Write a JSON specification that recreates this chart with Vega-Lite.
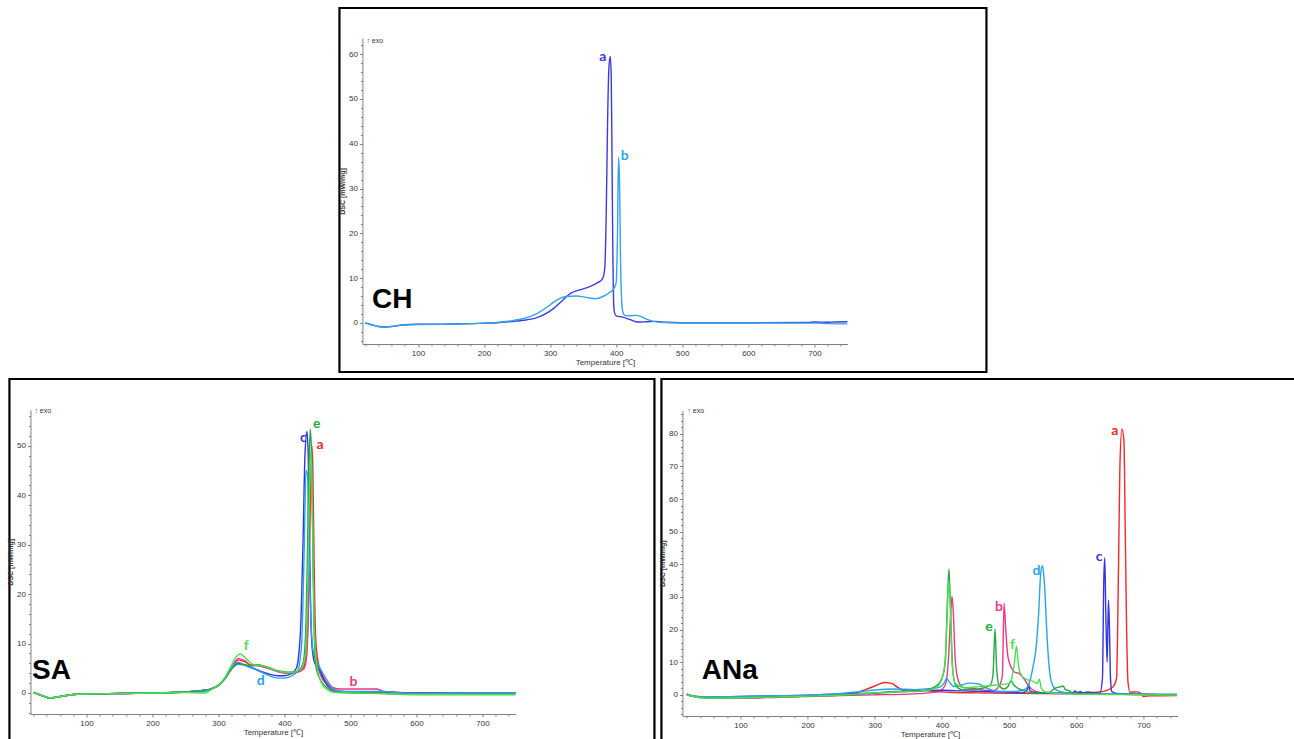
{
  "$schema": "https://vega.github.io/schema/vega-lite/v6.json",
  "background": "white",
  "padding": {"left": 5, "top": 6, "right": 0, "bottom": 0},
  "config": {
    "view": {"stroke": "black", "strokeWidth": 2.2, "fill": "white"},
    "axis": {
      "grid": false,
      "domainColor": "#808080",
      "tickColor": "#808080",
      "tickSize": 3,
      "labelFont": "Liberation Sans",
      "labelFontSize": 8,
      "labelColor": "#333333",
      "labelPadding": 2,
      "titleFont": "Liberation Sans",
      "titleFontSize": 8,
      "titleColor": "#333333",
      "titleFontWeight": "normal"
    },
    "line": {"strokeWidth": 1.4},
    "legend": {"disable": true}
  },
  "datasets": {
    "ch": [
      {"s":"a","T":20,"v":0},{"s":"a","T":30,"v":-0.4},{"s":"a","T":40,"v":-0.8},{"s":"a","T":50,"v":-0.9},{"s":"a","T":60,"v":-0.8},{"s":"a","T":80,"v":-0.4},{"s":"a","T":100,"v":-0.3},{"s":"a","T":150,"v":-0.25},{"s":"a","T":200,"v":-0.05},{"s":"a","T":220,"v":0.05},{"s":"a","T":240,"v":0.3},{"s":"a","T":260,"v":0.6},{"s":"a","T":280,"v":1.2},{"s":"a","T":295,"v":2.2},{"s":"a","T":305,"v":3.2},{"s":"a","T":315,"v":4.5},{"s":"a","T":325,"v":5.9},{"s":"a","T":332,"v":6.7},{"s":"a","T":345,"v":7.4},{"s":"a","T":360,"v":8.1},{"s":"a","T":372,"v":9.0},{"s":"a","T":378,"v":9.6},{"s":"a","T":381,"v":10.5},{"s":"a","T":383,"v":13},{"s":"a","T":385,"v":25},{"s":"a","T":387,"v":45},{"s":"a","T":389,"v":57},{"s":"a","T":391,"v":59.5},{"s":"a","T":392.5,"v":55},{"s":"a","T":393.5,"v":40},{"s":"a","T":395,"v":15},{"s":"a","T":396,"v":5},{"s":"a","T":397.5,"v":2.3},{"s":"a","T":400,"v":1.6},{"s":"a","T":410,"v":1.3},{"s":"a","T":418,"v":0.9},{"s":"a","T":425,"v":0.5},{"s":"a","T":432,"v":0.2},{"s":"a","T":445,"v":0.25},{"s":"a","T":460,"v":0.35},{"s":"a","T":475,"v":0.15},{"s":"a","T":500,"v":0.05},{"s":"a","T":600,"v":0.05},{"s":"a","T":690,"v":0.1},{"s":"a","T":700,"v":0.2},{"s":"a","T":720,"v":0.15},{"s":"a","T":730,"v":0.2},{"s":"a","T":750,"v":0.25},
      {"s":"b","T":20,"v":0},{"s":"b","T":30,"v":-0.4},{"s":"b","T":40,"v":-0.8},{"s":"b","T":50,"v":-0.95},{"s":"b","T":60,"v":-0.8},{"s":"b","T":80,"v":-0.45},{"s":"b","T":100,"v":-0.35},{"s":"b","T":150,"v":-0.3},{"s":"b","T":200,"v":-0.05},{"s":"b","T":220,"v":0.1},{"s":"b","T":240,"v":0.45},{"s":"b","T":260,"v":1.0},{"s":"b","T":280,"v":2.1},{"s":"b","T":295,"v":3.5},{"s":"b","T":305,"v":4.6},{"s":"b","T":315,"v":5.5},{"s":"b","T":325,"v":5.9},{"s":"b","T":340,"v":6.0},{"s":"b","T":355,"v":5.7},{"s":"b","T":368,"v":5.4},{"s":"b","T":380,"v":5.9},{"s":"b","T":390,"v":6.8},{"s":"b","T":397,"v":7.8},{"s":"b","T":400,"v":9},{"s":"b","T":402,"v":20},{"s":"b","T":403.5,"v":37},{"s":"b","T":405,"v":32},{"s":"b","T":406.5,"v":15},{"s":"b","T":408,"v":6},{"s":"b","T":410,"v":2.5},{"s":"b","T":413,"v":1.7},{"s":"b","T":420,"v":1.6},{"s":"b","T":430,"v":1.7},{"s":"b","T":438,"v":1.4},{"s":"b","T":445,"v":0.9},{"s":"b","T":455,"v":0.4},{"s":"b","T":465,"v":0.15},{"s":"b","T":500,"v":0.0},{"s":"b","T":600,"v":0.0},{"s":"b","T":700,"v":-0.05},{"s":"b","T":720,"v":-0.15},{"s":"b","T":750,"v":-0.2}
    ],
    "chLab": [
      {"s":"a","T":379.6,"v":59.4},{"s":"b","T":412.8,"v":37.3}
    ],
    "sa": [
      {"s":"a","T":20,"v":0.1},{"s":"a","T":30,"v":-0.4},{"s":"a","T":45,"v":-1.0},{"s":"a","T":60,"v":-0.7},{"s":"a","T":80,"v":-0.3},{"s":"a","T":100,"v":-0.2},{"s":"a","T":150,"v":-0.1},{"s":"a","T":200,"v":0},{"s":"a","T":250,"v":0.2},{"s":"a","T":275,"v":0.5},{"s":"a","T":290,"v":0.9},{"s":"a","T":300,"v":1.6},{"s":"a","T":310,"v":3.0},{"s":"a","T":318,"v":4.6},{"s":"a","T":325,"v":6.0},{"s":"a","T":330,"v":6.7},{"s":"a","T":340,"v":6.3},{"s":"a","T":350,"v":5.6},{"s":"a","T":360,"v":5.5},{"s":"a","T":375,"v":5.0},{"s":"a","T":390,"v":4.4},{"s":"a","T":405,"v":4.0},{"s":"a","T":420,"v":4.3},{"s":"a","T":428,"v":5.0},{"s":"a","T":432,"v":7},{"s":"a","T":436,"v":15},{"s":"a","T":438,"v":30},{"s":"a","T":440,"v":45},{"s":"a","T":441.5,"v":50},{"s":"a","T":443,"v":45},{"s":"a","T":445,"v":25},{"s":"a","T":447,"v":12},{"s":"a","T":450,"v":7},{"s":"a","T":455,"v":4.5},{"s":"a","T":462,"v":2.5},{"s":"a","T":470,"v":1.2},{"s":"a","T":480,"v":0.4},{"s":"a","T":500,"v":0.2},{"s":"a","T":550,"v":0.1},{"s":"a","T":600,"v":-0.1},{"s":"a","T":700,"v":-0.1},{"s":"a","T":750,"v":-0.1},
      {"s":"b","T":20,"v":0.1},{"s":"b","T":30,"v":-0.4},{"s":"b","T":45,"v":-1.0},{"s":"b","T":60,"v":-0.7},{"s":"b","T":80,"v":-0.3},{"s":"b","T":100,"v":-0.2},{"s":"b","T":150,"v":-0.1},{"s":"b","T":200,"v":0},{"s":"b","T":250,"v":0.2},{"s":"b","T":275,"v":0.5},{"s":"b","T":290,"v":0.9},{"s":"b","T":300,"v":1.6},{"s":"b","T":310,"v":3.0},{"s":"b","T":318,"v":4.8},{"s":"b","T":325,"v":6.3},{"s":"b","T":330,"v":7.0},{"s":"b","T":340,"v":6.5},{"s":"b","T":350,"v":5.5},{"s":"b","T":360,"v":5.6},{"s":"b","T":375,"v":5.0},{"s":"b","T":390,"v":4.3},{"s":"b","T":405,"v":4.0},{"s":"b","T":420,"v":4.2},{"s":"b","T":430,"v":5},{"s":"b","T":434,"v":8},{"s":"b","T":437,"v":25},{"s":"b","T":439,"v":45},{"s":"b","T":440,"v":48},{"s":"b","T":441.5,"v":46},{"s":"b","T":443,"v":30},{"s":"b","T":445,"v":15},{"s":"b","T":448,"v":7},{"s":"b","T":455,"v":3.5},{"s":"b","T":465,"v":1.8},{"s":"b","T":475,"v":1.0},{"s":"b","T":485,"v":0.8},{"s":"b","T":500,"v":0.8},{"s":"b","T":520,"v":0.8},{"s":"b","T":540,"v":0.8},{"s":"b","T":545,"v":0.6},{"s":"b","T":550,"v":0.3},{"s":"b","T":560,"v":0.2},{"s":"b","T":600,"v":0.0},{"s":"b","T":700,"v":0.0},{"s":"b","T":750,"v":0.0},
      {"s":"c","T":20,"v":0.1},{"s":"c","T":30,"v":-0.4},{"s":"c","T":45,"v":-1.0},{"s":"c","T":60,"v":-0.7},{"s":"c","T":80,"v":-0.3},{"s":"c","T":100,"v":-0.2},{"s":"c","T":150,"v":-0.1},{"s":"c","T":200,"v":0},{"s":"c","T":250,"v":0.2},{"s":"c","T":275,"v":0.5},{"s":"c","T":290,"v":0.9},{"s":"c","T":300,"v":1.6},{"s":"c","T":310,"v":3.0},{"s":"c","T":318,"v":4.6},{"s":"c","T":325,"v":5.7},{"s":"c","T":330,"v":6.0},{"s":"c","T":345,"v":5.4},{"s":"c","T":360,"v":4.6},{"s":"c","T":375,"v":3.9},{"s":"c","T":390,"v":3.5},{"s":"c","T":400,"v":3.5},{"s":"c","T":410,"v":3.9},{"s":"c","T":418,"v":5},{"s":"c","T":424,"v":12},{"s":"c","T":428,"v":30},{"s":"c","T":431,"v":48},{"s":"c","T":434,"v":52.9},{"s":"c","T":436,"v":48},{"s":"c","T":438,"v":30},{"s":"c","T":440,"v":15},{"s":"c","T":442,"v":9},{"s":"c","T":446,"v":6},{"s":"c","T":452,"v":5},{"s":"c","T":460,"v":2.5},{"s":"c","T":470,"v":0.8},{"s":"c","T":480,"v":0.2},{"s":"c","T":500,"v":0.2},{"s":"c","T":550,"v":0.2},{"s":"c","T":570,"v":0.1},{"s":"c","T":600,"v":0.0},{"s":"c","T":700,"v":0.0},{"s":"c","T":750,"v":0.0},
      {"s":"d","T":20,"v":0.1},{"s":"d","T":30,"v":-0.4},{"s":"d","T":45,"v":-1.0},{"s":"d","T":60,"v":-0.7},{"s":"d","T":80,"v":-0.3},{"s":"d","T":100,"v":-0.2},{"s":"d","T":150,"v":-0.1},{"s":"d","T":200,"v":0},{"s":"d","T":250,"v":0.2},{"s":"d","T":275,"v":0.5},{"s":"d","T":290,"v":0.9},{"s":"d","T":300,"v":1.6},{"s":"d","T":310,"v":3.0},{"s":"d","T":318,"v":4.7},{"s":"d","T":325,"v":5.9},{"s":"d","T":330,"v":6.2},{"s":"d","T":345,"v":5.3},{"s":"d","T":360,"v":4.5},{"s":"d","T":375,"v":3.6},{"s":"d","T":390,"v":3.0},{"s":"d","T":400,"v":3.0},{"s":"d","T":410,"v":3.4},{"s":"d","T":420,"v":4.5},{"s":"d","T":426,"v":10},{"s":"d","T":430,"v":30},{"s":"d","T":432.5,"v":45},{"s":"d","T":435,"v":44},{"s":"d","T":437,"v":30},{"s":"d","T":440,"v":15},{"s":"d","T":444,"v":8},{"s":"d","T":450,"v":6},{"s":"d","T":458,"v":4},{"s":"d","T":465,"v":2.5},{"s":"d","T":475,"v":0.8},{"s":"d","T":490,"v":0.3},{"s":"d","T":550,"v":0.3},{"s":"d","T":560,"v":0.2},{"s":"d","T":600,"v":-0.1},{"s":"d","T":700,"v":0.0},{"s":"d","T":750,"v":0.0},
      {"s":"e","T":20,"v":0.1},{"s":"e","T":30,"v":-0.4},{"s":"e","T":45,"v":-1.0},{"s":"e","T":60,"v":-0.7},{"s":"e","T":80,"v":-0.3},{"s":"e","T":100,"v":-0.2},{"s":"e","T":150,"v":-0.1},{"s":"e","T":200,"v":0},{"s":"e","T":250,"v":0.2},{"s":"e","T":275,"v":0.3},{"s":"e","T":290,"v":0.8},{"s":"e","T":300,"v":1.5},{"s":"e","T":310,"v":2.9},{"s":"e","T":318,"v":4.5},{"s":"e","T":325,"v":5.5},{"s":"e","T":330,"v":5.8},{"s":"e","T":345,"v":5.6},{"s":"e","T":360,"v":5.7},{"s":"e","T":375,"v":5.2},{"s":"e","T":390,"v":4.5},{"s":"e","T":405,"v":4.2},{"s":"e","T":420,"v":4.4},{"s":"e","T":428,"v":6},{"s":"e","T":432,"v":12},{"s":"e","T":435,"v":30},{"s":"e","T":437,"v":45},{"s":"e","T":439,"v":53.4},{"s":"e","T":441,"v":48},{"s":"e","T":443,"v":30},{"s":"e","T":445,"v":12},{"s":"e","T":448,"v":5},{"s":"e","T":455,"v":2.5},{"s":"e","T":465,"v":1.0},{"s":"e","T":475,"v":0.2},{"s":"e","T":500,"v":0.0},{"s":"e","T":550,"v":-0.1},{"s":"e","T":600,"v":-0.3},{"s":"e","T":650,"v":-0.3},{"s":"e","T":750,"v":-0.3},
      {"s":"f","T":20,"v":0.1},{"s":"f","T":30,"v":-0.4},{"s":"f","T":45,"v":-1.0},{"s":"f","T":60,"v":-0.7},{"s":"f","T":80,"v":-0.3},{"s":"f","T":100,"v":-0.2},{"s":"f","T":150,"v":-0.1},{"s":"f","T":200,"v":0},{"s":"f","T":250,"v":0.1},{"s":"f","T":280,"v":0.0},{"s":"f","T":290,"v":0.8},{"s":"f","T":300,"v":1.6},{"s":"f","T":310,"v":3.2},{"s":"f","T":318,"v":5.2},{"s":"f","T":325,"v":7.0},{"s":"f","T":333,"v":7.9},{"s":"f","T":345,"v":6.5},{"s":"f","T":355,"v":5.6},{"s":"f","T":365,"v":5.5},{"s":"f","T":380,"v":4.9},{"s":"f","T":395,"v":4.3},{"s":"f","T":410,"v":4.1},{"s":"f","T":425,"v":4.8},{"s":"f","T":432,"v":8},{"s":"f","T":435,"v":20},{"s":"f","T":438,"v":42},{"s":"f","T":440,"v":49},{"s":"f","T":442,"v":40},{"s":"f","T":444,"v":20},{"s":"f","T":447,"v":8},{"s":"f","T":452,"v":3.5},{"s":"f","T":460,"v":1.2},{"s":"f","T":470,"v":0.3},{"s":"f","T":480,"v":0.1},{"s":"f","T":550,"v":-0.1},{"s":"f","T":600,"v":-0.3},{"s":"f","T":750,"v":-0.3}
    ],
    "saLab": [
      {"s":"f","T":342,"v":9.6},{"s":"d","T":364,"v":2.5},{"s":"c","T":428.5,"v":51.5},{"s":"e","T":448.7,"v":54.4},{"s":"a","T":454,"v":50.1},{"s":"b","T":504.7,"v":2.2}
    ],
    "ana": [
      {"s":"a","T":20,"v":0.3},{"s":"a","T":30,"v":-0.4},{"s":"a","T":50,"v":-0.8},{"s":"a","T":100,"v":-0.9},{"s":"a","T":150,"v":-0.7},{"s":"a","T":200,"v":-0.4},{"s":"a","T":250,"v":-0.1},{"s":"a","T":270,"v":0.5},{"s":"a","T":285,"v":1.5},{"s":"a","T":300,"v":2.7},{"s":"a","T":315,"v":3.8},{"s":"a","T":325,"v":3.5},{"s":"a","T":335,"v":2.2},{"s":"a","T":345,"v":1.2},{"s":"a","T":360,"v":1.0},{"s":"a","T":375,"v":1.3},{"s":"a","T":390,"v":1.0},{"s":"a","T":410,"v":0.8},{"s":"a","T":450,"v":0.6},{"s":"a","T":500,"v":0.5},{"s":"a","T":550,"v":0.4},{"s":"a","T":600,"v":0.6},{"s":"a","T":630,"v":0.8},{"s":"a","T":645,"v":1.3},{"s":"a","T":655,"v":2.5},{"s":"a","T":660,"v":5},{"s":"a","T":663,"v":40},{"s":"a","T":665,"v":70},{"s":"a","T":668,"v":81.5},{"s":"a","T":671,"v":78},{"s":"a","T":673,"v":50},{"s":"a","T":675,"v":20},{"s":"a","T":677,"v":4},{"s":"a","T":680,"v":0.8},{"s":"a","T":690,"v":0.9},{"s":"a","T":695,"v":0.6},{"s":"a","T":700,"v":-0.5},{"s":"a","T":710,"v":-0.3},{"s":"a","T":750,"v":-0.2},
      {"s":"b","T":20,"v":0.1},{"s":"b","T":30,"v":-0.5},{"s":"b","T":50,"v":-0.9},{"s":"b","T":100,"v":-1.0},{"s":"b","T":150,"v":-0.8},{"s":"b","T":200,"v":-0.5},{"s":"b","T":250,"v":-0.2},{"s":"b","T":300,"v":0.0},{"s":"b","T":350,"v":0.2},{"s":"b","T":380,"v":0.6},{"s":"b","T":395,"v":1.0},{"s":"b","T":405,"v":3},{"s":"b","T":410,"v":12},{"s":"b","T":413,"v":25},{"s":"b","T":415,"v":30.2},{"s":"b","T":417,"v":25},{"s":"b","T":420,"v":10},{"s":"b","T":425,"v":4},{"s":"b","T":432,"v":2.2},{"s":"b","T":445,"v":2.0},{"s":"b","T":460,"v":1.5},{"s":"b","T":475,"v":1.2},{"s":"b","T":485,"v":2.5},{"s":"b","T":490,"v":6},{"s":"b","T":492.5,"v":28.1},{"s":"b","T":495,"v":20},{"s":"b","T":498,"v":12},{"s":"b","T":502,"v":9},{"s":"b","T":508,"v":7},{"s":"b","T":515,"v":6.5},{"s":"b","T":522,"v":5},{"s":"b","T":530,"v":2.5},{"s":"b","T":540,"v":1.0},{"s":"b","T":560,"v":0.5},{"s":"b","T":600,"v":0.3},{"s":"b","T":700,"v":0.1},{"s":"b","T":750,"v":0.0},
      {"s":"c","T":20,"v":0.1},{"s":"c","T":30,"v":-0.4},{"s":"c","T":50,"v":-0.6},{"s":"c","T":100,"v":-0.5},{"s":"c","T":150,"v":-0.3},{"s":"c","T":200,"v":-0.1},{"s":"c","T":250,"v":0.3},{"s":"c","T":300,"v":0.6},{"s":"c","T":330,"v":1.0},{"s":"c","T":360,"v":1.3},{"s":"c","T":400,"v":1.4},{"s":"c","T":430,"v":1.2},{"s":"c","T":470,"v":1.0},{"s":"c","T":500,"v":0.8},{"s":"c","T":520,"v":0.6},{"s":"c","T":527,"v":1.5},{"s":"c","T":529,"v":3.2},{"s":"c","T":531,"v":1.2},{"s":"c","T":540,"v":0.7},{"s":"c","T":560,"v":0.5},{"s":"c","T":595,"v":0.6},{"s":"c","T":598,"v":1.2},{"s":"c","T":602,"v":0.7},{"s":"c","T":606,"v":1.0},{"s":"c","T":610,"v":0.6},{"s":"c","T":617,"v":0.9},{"s":"c","T":625,"v":0.6},{"s":"c","T":635,"v":0.5},{"s":"c","T":639,"v":5},{"s":"c","T":641,"v":35},{"s":"c","T":642.5,"v":42},{"s":"c","T":644,"v":25},{"s":"c","T":646,"v":10},{"s":"c","T":647,"v":20},{"s":"c","T":648,"v":29},{"s":"c","T":649.5,"v":20},{"s":"c","T":651,"v":5},{"s":"c","T":653,"v":1},{"s":"c","T":660,"v":0.4},{"s":"c","T":700,"v":0.2},{"s":"c","T":750,"v":0.1},
      {"s":"d","T":20,"v":0.1},{"s":"d","T":30,"v":-0.4},{"s":"d","T":50,"v":-0.6},{"s":"d","T":100,"v":-0.5},{"s":"d","T":150,"v":-0.3},{"s":"d","T":200,"v":-0.1},{"s":"d","T":250,"v":0.4},{"s":"d","T":280,"v":1.0},{"s":"d","T":300,"v":1.5},{"s":"d","T":330,"v":1.8},{"s":"d","T":360,"v":1.6},{"s":"d","T":375,"v":1.8},{"s":"d","T":395,"v":2.2},{"s":"d","T":403,"v":3.5},{"s":"d","T":407,"v":5.0},{"s":"d","T":411,"v":4.0},{"s":"d","T":418,"v":2.5},{"s":"d","T":430,"v":3.0},{"s":"d","T":440,"v":3.6},{"s":"d","T":455,"v":3.3},{"s":"d","T":465,"v":2.2},{"s":"d","T":475,"v":1.4},{"s":"d","T":490,"v":1.0},{"s":"d","T":510,"v":1.0},{"s":"d","T":525,"v":1.8},{"s":"d","T":532,"v":5},{"s":"d","T":536,"v":9},{"s":"d","T":540,"v":14},{"s":"d","T":544,"v":25},{"s":"d","T":547,"v":37},{"s":"d","T":549.5,"v":39.6},{"s":"d","T":551,"v":38},{"s":"d","T":553,"v":33},{"s":"d","T":556,"v":20},{"s":"d","T":559,"v":10},{"s":"d","T":563,"v":4},{"s":"d","T":570,"v":1.5},{"s":"d","T":580,"v":0.8},{"s":"d","T":600,"v":0.4},{"s":"d","T":700,"v":0.2},{"s":"d","T":750,"v":0.1},
      {"s":"e","T":20,"v":0.1},{"s":"e","T":30,"v":-0.5},{"s":"e","T":50,"v":-0.9},{"s":"e","T":100,"v":-0.9},{"s":"e","T":150,"v":-0.7},{"s":"e","T":200,"v":-0.4},{"s":"e","T":250,"v":-0.1},{"s":"e","T":300,"v":0.5},{"s":"e","T":340,"v":0.9},{"s":"e","T":370,"v":1.2},{"s":"e","T":390,"v":2.5},{"s":"e","T":400,"v":5},{"s":"e","T":405,"v":10},{"s":"e","T":408,"v":28},{"s":"e","T":410.5,"v":38.6},{"s":"e","T":413,"v":25},{"s":"e","T":416,"v":8},{"s":"e","T":420,"v":3},{"s":"e","T":430,"v":1.6},{"s":"e","T":445,"v":1.6},{"s":"e","T":460,"v":2.0},{"s":"e","T":472,"v":3},{"s":"e","T":476,"v":6},{"s":"e","T":479,"v":20.2},{"s":"e","T":481.5,"v":8},{"s":"e","T":485,"v":3},{"s":"e","T":492,"v":1.8},{"s":"e","T":498,"v":2.5},{"s":"e","T":503,"v":4.3},{"s":"e","T":507,"v":3},{"s":"e","T":515,"v":1.8},{"s":"e","T":525,"v":1},{"s":"e","T":540,"v":0.5},{"s":"e","T":560,"v":0.8},{"s":"e","T":568,"v":2.0},{"s":"e","T":575,"v":2.4},{"s":"e","T":580,"v":2.7},{"s":"e","T":584,"v":1.6},{"s":"e","T":590,"v":1.2},{"s":"e","T":595,"v":0.4},{"s":"e","T":620,"v":0.2},{"s":"e","T":700,"v":0.1},{"s":"e","T":750,"v":0.0},
      {"s":"f","T":20,"v":0.1},{"s":"f","T":30,"v":-0.5},{"s":"f","T":50,"v":-1.0},{"s":"f","T":100,"v":-0.9},{"s":"f","T":150,"v":-0.7},{"s":"f","T":200,"v":-0.4},{"s":"f","T":250,"v":-0.1},{"s":"f","T":300,"v":0.6},{"s":"f","T":340,"v":1.0},{"s":"f","T":370,"v":1.2},{"s":"f","T":390,"v":2.0},{"s":"f","T":398,"v":4},{"s":"f","T":404,"v":9},{"s":"f","T":408,"v":25},{"s":"f","T":410,"v":35},{"s":"f","T":412,"v":30},{"s":"f","T":415,"v":10},{"s":"f","T":420,"v":3.5},{"s":"f","T":435,"v":2.2},{"s":"f","T":455,"v":2.5},{"s":"f","T":470,"v":2.8},{"s":"f","T":490,"v":3.2},{"s":"f","T":500,"v":3.5},{"s":"f","T":505,"v":6},{"s":"f","T":508,"v":10},{"s":"f","T":511,"v":15},{"s":"f","T":514,"v":9},{"s":"f","T":518,"v":6},{"s":"f","T":525,"v":4.8},{"s":"f","T":535,"v":4.2},{"s":"f","T":542,"v":3.5},{"s":"f","T":545,"v":4.8},{"s":"f","T":548,"v":2},{"s":"f","T":555,"v":0.8},{"s":"f","T":580,"v":0.3},{"s":"f","T":700,"v":0.0},{"s":"f","T":750,"v":-0.1}
    ],
    "anaLab": [
      {"s":"a","T":657.3,"v":81.0},{"s":"c","T":634,"v":42.1},{"s":"d","T":540.7,"v":37.9},{"s":"b","T":485,"v":26.8},{"s":"e","T":470,"v":20.7},{"s":"f","T":505,"v":15.3}
    ]
  },
  "spacing": 3,
  "center": true,
  "resolve": {"scale": {"color": "independent"}},
  "vconcat": [
    {
      "width": 647,
      "height": 364,
      "resolve": {"axis": {"x": "independent", "y": "independent"}},
      "layer": [
        {
          "data": {"name": "ch"},
          "mark": {"type": "line", "interpolate": "monotone"},
          "encoding": {
            "x": {"field": "T", "type": "quantitative",
              "scale": {"domain": [16, 750], "range": [23, 508], "nice": false, "zero": false},
              "axis": {"orient": "bottom", "offset": -28, "values": [100, 200, 300, 400, 500, 600, 700], "title": "Temperature [℃]", "titlePadding": 1}},
            "y": {"field": "v", "type": "quantitative",
              "scale": {"domain": [-4.7, 63.6], "range": [336, 30], "nice": false, "zero": false},
              "axis": {"orient": "left", "offset": -23, "values": [0, 10, 20, 30, 40, 50, 60], "title": "DSC [mW/mg]", "titleFontWeight": "bold", "titleFontSize": 7, "titlePadding": 3}},
            "color": {"field": "s", "type": "nominal", "scale": {"domain": ["a", "b"], "range": ["#3c3cdc", "#2ea6e8"]}, "legend": null}
          }
        },
        {
          "data": {"name": "chLab"},
          "mark": {"type": "text", "font": "Lato", "fontWeight": "bold", "fontSize": 14, "align": "center", "baseline": "middle"},
          "encoding": {
            "x": {"field": "T", "type": "quantitative", "axis": null},
            "y": {"field": "v", "type": "quantitative", "axis": null},
            "text": {"field": "s"},
            "color": {"field": "s", "type": "nominal", "legend": null}
          }
        },
        {
          "data": {"values": [{"T": 22, "v": 63, "txt": "↑ exo"}]},
          "mark": {"type": "text", "font": "Liberation Sans", "fontSize": 7, "align": "left", "baseline": "middle", "color": "#333333"},
          "encoding": {
            "x": {"field": "T", "type": "quantitative",
              "axis": {"orient": "bottom", "offset": -28, "values": [20, 40, 60, 80, 120, 140, 160, 180, 220, 240, 260, 280, 320, 340, 360, 380, 420, 440, 460, 480, 520, 540, 560, 580, 620, 640, 660, 680, 720, 740], "labels": false, "domain": false, "tickSize": 2, "title": null}},
            "y": {"field": "v", "type": "quantitative",
              "axis": {"orient": "left", "offset": -23, "values": [-4, -2, 2, 4, 6, 8, 12, 14, 16, 18, 22, 24, 26, 28, 32, 34, 36, 38, 42, 44, 46, 48, 52, 54, 56, 58, 62], "labels": false, "domain": false, "tickSize": 2, "title": null}},
            "text": {"field": "txt"}
          }
        },
        {
          "data": {"values": [{"T": 61, "v": 3.4, "txt": "CH"}]},
          "mark": {"type": "text", "font": "Liberation Sans", "fontWeight": "bold", "fontSize": 28, "align": "center", "baseline": "alphabetic", "color": "black"},
          "encoding": {
            "x": {"field": "T", "type": "quantitative", "axis": null},
            "y": {"field": "v", "type": "quantitative", "axis": null},
            "text": {"field": "txt"}
          }
        }
      ]
    },
    {
      "spacing": 1,
      "resolve": {"scale": {"color": "independent"}},
      "hconcat": [
        {
          "width": 645,
          "height": 364,
          "resolve": {"axis": {"x": "independent", "y": "independent"}},
          "layer": [
            {
              "data": {"name": "sa"},
              "mark": {"type": "line", "interpolate": "monotone"},
              "encoding": {
                "x": {"field": "T", "type": "quantitative",
                  "scale": {"domain": [15, 750], "range": [21, 506], "nice": false, "zero": false},
                  "axis": {"orient": "bottom", "offset": -29, "values": [100, 200, 300, 400, 500, 600, 700], "title": "Temperature [℃]", "titlePadding": 1}},
                "y": {"field": "v", "type": "quantitative",
                  "scale": {"domain": [-4.25, 57.3], "range": [335, 30.7], "nice": false, "zero": false},
                  "axis": {"orient": "left", "offset": -21, "values": [0, 10, 20, 30, 40, 50], "title": "DSC [mW/mg]", "titleFontWeight": "bold", "titleFontSize": 7, "titlePadding": 3}},
                "color": {"field": "s", "type": "nominal", "scale": {"domain": ["a", "b", "c", "d", "e", "f"], "range": ["#ee2a2a", "#f0368a", "#3434e0", "#2aa2ea", "#26a845", "#4de04d"]}, "legend": null}
              }
            },
            {
              "data": {"name": "saLab"},
              "mark": {"type": "text", "font": "Lato", "fontWeight": "bold", "fontSize": 14, "align": "center", "baseline": "middle"},
              "encoding": {
                "x": {"field": "T", "type": "quantitative", "axis": null},
                "y": {"field": "v", "type": "quantitative", "axis": null},
                "text": {"field": "s"},
                "color": {"field": "s", "type": "nominal", "legend": null}
              }
            },
            {
              "data": {"values": [{"T": 21, "v": 57, "txt": "↑ exo"}]},
              "mark": {"type": "text", "font": "Liberation Sans", "fontSize": 7, "align": "left", "baseline": "middle", "color": "#333333"},
              "encoding": {
                "x": {"field": "T", "type": "quantitative",
                  "axis": {"orient": "bottom", "offset": -29, "values": [20, 40, 60, 80, 120, 140, 160, 180, 220, 240, 260, 280, 320, 340, 360, 380, 420, 440, 460, 480, 520, 540, 560, 580, 620, 640, 660, 680, 720, 740], "labels": false, "domain": false, "tickSize": 2, "title": null}},
                "y": {"field": "v", "type": "quantitative",
                  "axis": {"orient": "left", "offset": -21, "values": [-4, -2, 2, 4, 6, 8, 12, 14, 16, 18, 22, 24, 26, 28, 32, 34, 36, 38, 42, 44, 46, 48, 52, 54, 56], "labels": false, "domain": false, "tickSize": 2, "title": null}},
                "text": {"field": "txt"}
              }
            },
            {
              "data": {"values": [{"T": 47, "v": 2.8, "txt": "SA"}]},
              "mark": {"type": "text", "font": "Liberation Sans", "fontWeight": "bold", "fontSize": 28, "align": "center", "baseline": "alphabetic", "color": "black"},
              "encoding": {
                "x": {"field": "T", "type": "quantitative", "axis": null},
                "y": {"field": "v", "type": "quantitative", "axis": null},
                "text": {"field": "txt"}
              }
            }
          ]
        },
        {
          "width": 655,
          "height": 364,
          "resolve": {"axis": {"x": "independent", "y": "independent"}},
          "layer": [
            {
              "data": {"name": "ana"},
              "mark": {"type": "line", "interpolate": "monotone"},
              "encoding": {
                "x": {"field": "T", "type": "quantitative",
                  "scale": {"domain": [13.6, 750.7], "range": [21, 516], "nice": false, "zero": false},
                  "axis": {"orient": "bottom", "offset": -27, "values": [100, 200, 300, 400, 500, 600, 700], "title": "Temperature [℃]", "titlePadding": 1}},
                "y": {"field": "v", "type": "quantitative",
                  "scale": {"domain": [-6.4, 87.1], "range": [336.7, 31.7], "nice": false, "zero": false},
                  "axis": {"orient": "left", "offset": -21, "values": [0, 10, 20, 30, 40, 50, 60, 70, 80], "title": "DSC [mW/mg]", "titleFontWeight": "bold", "titleFontSize": 7, "titlePadding": 3}},
                "color": {"field": "s", "type": "nominal", "scale": {"domain": ["a", "b", "c", "d", "e", "f"], "range": ["#ee2a2a", "#f0368a", "#3434e0", "#2aa2ea", "#26a845", "#4de04d"]}, "legend": null}
              }
            },
            {
              "data": {"name": "anaLab"},
              "mark": {"type": "text", "font": "Lato", "fontWeight": "bold", "fontSize": 14, "align": "center", "baseline": "middle"},
              "encoding": {
                "x": {"field": "T", "type": "quantitative", "axis": null},
                "y": {"field": "v", "type": "quantitative", "axis": null},
                "text": {"field": "s"},
                "color": {"field": "s", "type": "nominal", "legend": null}
              }
            },
            {
              "data": {"values": [{"T": 21, "v": 87, "txt": "↑ exo"}]},
              "mark": {"type": "text", "font": "Liberation Sans", "fontSize": 7, "align": "left", "baseline": "middle", "color": "#333333"},
              "encoding": {
                "x": {"field": "T", "type": "quantitative",
                  "axis": {"orient": "bottom", "offset": -27, "values": [20, 40, 60, 80, 120, 140, 160, 180, 220, 240, 260, 280, 320, 340, 360, 380, 420, 440, 460, 480, 520, 540, 560, 580, 620, 640, 660, 680, 720, 740], "labels": false, "domain": false, "tickSize": 2, "title": null}},
                "y": {"field": "v", "type": "quantitative",
                  "axis": {"orient": "left", "offset": -21, "values": [-6, -4, -2, 2, 4, 6, 8, 12, 14, 16, 18, 22, 24, 26, 28, 32, 34, 36, 38, 42, 44, 46, 48, 52, 54, 56, 58, 62, 64, 66, 68, 72, 74, 76, 78, 82, 84, 86], "labels": false, "domain": false, "tickSize": 2, "title": null}},
                "text": {"field": "txt"}
              }
            },
            {
              "data": {"values": [{"T": 84, "v": 5.0, "txt": "ANa"}]},
              "mark": {"type": "text", "font": "Liberation Sans", "fontWeight": "bold", "fontSize": 28, "align": "center", "baseline": "alphabetic", "color": "black"},
              "encoding": {
                "x": {"field": "T", "type": "quantitative", "axis": null},
                "y": {"field": "v", "type": "quantitative", "axis": null},
                "text": {"field": "txt"}
              }
            }
          ]
        }
      ]
    }
  ]
}
